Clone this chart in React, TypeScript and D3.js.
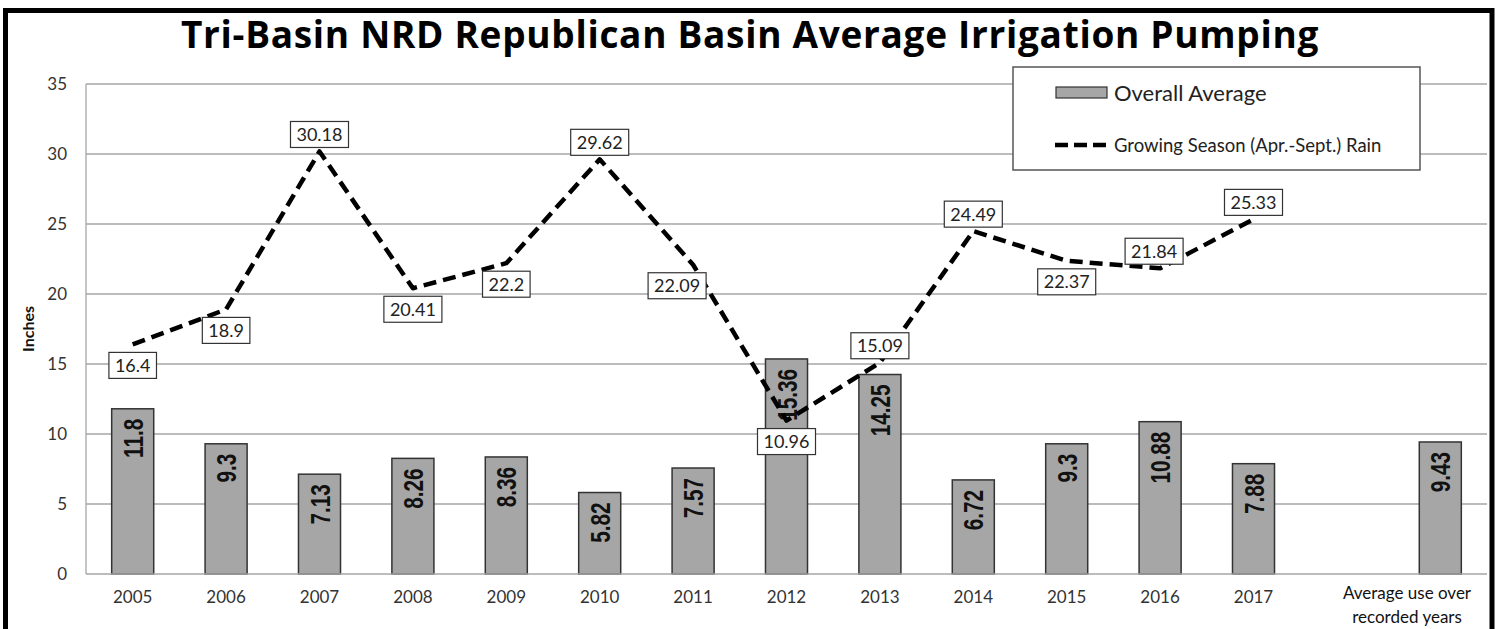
import React, { useEffect, useRef } from "react";
import * as d3 from "d3";

const categories = [
  "2005", "2006", "2007", "2008", "2009", "2010", "2011", "2012", "2013",
  "2014", "2015", "2016", "2017", "", "Average use over recorded years",
];
const barValues: (number | null)[] = [
  11.8, 9.3, 7.13, 8.26, 8.36, 5.82, 7.57, 15.36, 14.25, 6.72, 9.3, 10.88, 7.88, null, 9.43,
];
const rainYears = [
  "2005", "2006", "2007", "2008", "2009", "2010", "2011", "2012", "2013",
  "2014", "2015", "2016", "2017",
];
const rainValues = [16.4, 18.9, 30.18, 20.41, 22.2, 29.62, 22.09, 10.96, 15.09, 24.49, 22.37, 21.84, 25.33];
const rainLabelPlacement = [
  "below", "below", "above", "below", "below", "above", "belowLeft",
  "below", "above", "above", "below", "aboveLeft", "above",
];
const yTicks = [0, 5, 10, 15, 20, 25, 30, 35];

const W = 1501;
const H = 629;
const M = { left: 86, right: 1487, top: 84, bottom: 574 };
const SANS = "Lato, 'Open Sans', sans-serif";

export default function App() {
  const ref = useRef<SVGSVGElement | null>(null);

  useEffect(() => {
    const svg = d3.select(ref.current);
    svg.selectAll("*").remove();

    svg.append("rect").attr("width", W).attr("height", H).attr("fill", "#fff");

    const x = d3
      .scaleBand<string>()
      .domain(categories)
      .range([M.left, M.right])
      .paddingInner(0.55)
      .paddingOuter(0.275);
    const y = d3.scaleLinear().domain([0, 35]).range([M.bottom, M.top]);
    const cx = (c: string) => (x(c) as number) + x.bandwidth() / 2;

    // grid
    svg
      .append("g")
      .selectAll("line")
      .data(yTicks.filter((t) => t > 0))
      .join("line")
      .attr("x1", M.left)
      .attr("x2", M.right)
      .attr("y1", (d) => y(d))
      .attr("y2", (d) => y(d))
      .attr("stroke", "#a6a6a6")
      .attr("stroke-width", 1.3);
    svg
      .append("line")
      .attr("x1", M.left)
      .attr("x2", M.left)
      .attr("y1", M.top)
      .attr("y2", M.bottom)
      .attr("stroke", "#a6a6a6")
      .attr("stroke-width", 1.3);

    // y tick labels
    svg
      .append("g")
      .selectAll("text")
      .data(yTicks)
      .join("text")
      .attr("x", 67)
      .attr("y", (d) => y(d))
      .attr("dy", "0.35em")
      .attr("text-anchor", "end")
      .attr("font-family", SANS)
      .attr("font-size", 17)
      .attr("fill", "#333")
      .text((d) => String(d));

    // y axis title
    svg
      .append("text")
      .attr("transform", `translate(34,${(M.top + M.bottom) / 2}) rotate(-90)`)
      .attr("text-anchor", "middle")
      .attr("font-family", SANS)
      .attr("font-weight", 700)
      .attr("font-size", 16)
      .attr("fill", "#111")
      .text("Inches");

    // bars
    const barData = categories
      .map((c, i) => ({ c, v: barValues[i] }))
      .filter((d) => d.v !== null) as { c: string; v: number }[];
    svg
      .append("g")
      .selectAll("rect")
      .data(barData)
      .join("rect")
      .attr("x", (d) => x(d.c) as number)
      .attr("y", (d) => y(d.v))
      .attr("width", x.bandwidth())
      .attr("height", (d) => y(0) - y(d.v))
      .attr("fill", "#a6a6a6")
      .attr("stroke", "#333")
      .attr("stroke-width", 1.5);

    // bottom axis line
    svg
      .append("line")
      .attr("x1", M.left)
      .attr("x2", M.right)
      .attr("y1", M.bottom)
      .attr("y2", M.bottom)
      .attr("stroke", "#a6a6a6")
      .attr("stroke-width", 1.5);

    // bar labels (rotated, condensed bold)
    svg
      .append("g")
      .selectAll("text")
      .data(barData)
      .join("text")
      .attr("transform", (d) => `translate(${cx(d.c)},${y(d.v) + 10}) rotate(-90) scale(0.74,1)`)
      .attr("text-anchor", "end")
      .attr("dy", "0.36em")
      .attr("font-family", "'Liberation Sans', Arial, sans-serif")
      .attr("font-weight", 700)
      .attr("font-size", 28)
      .attr("fill", "#111")
      .text((d) => String(d.v));

    // x tick labels
    const xl = svg.append("g");
    categories.forEach((c) => {
      if (!c) return;
      if (c.startsWith("Average")) {
        const t = xl
          .append("text")
          .attr("text-anchor", "middle")
          .attr("font-family", SANS)
          .attr("font-size", 17)
          .attr("fill", "#111");
        const px = Math.min(cx(c), M.right - 80);
        t.append("tspan").attr("x", px).attr("y", 599).text("Average use over");
        t.append("tspan").attr("x", px).attr("y", 623).text("recorded years");
      } else {
        xl.append("text")
          .attr("x", cx(c))
          .attr("y", 603)
          .attr("text-anchor", "middle")
          .attr("font-family", SANS)
          .attr("font-size", 17)
          .attr("fill", "#333")
          .text(c);
      }
    });

    // rain line
    const line = d3
      .line<number>()
      .x((_, i) => cx(rainYears[i]))
      .y((d) => y(d));
    svg
      .append("path")
      .attr("d", line(rainValues) as string)
      .attr("fill", "none")
      .attr("stroke", "#000")
      .attr("stroke-width", 4.5)
      .attr("stroke-dasharray", "13,7")
      .attr("stroke-linejoin", "round");

    // rain labels
    const lg = svg.append("g");
    rainValues.forEach((v, i) => {
      const place = rainLabelPlacement[i];
      const px = cx(rainYears[i]) + (place === "belowLeft" ? -16 : place === "aboveLeft" ? -6 : 0);
      const py = y(v);
      const g = lg.append("g");
      const r = g.append("rect").attr("fill", "#fff").attr("stroke", "#333").attr("stroke-width", 1.2);
      const t = g
        .append("text")
        .attr("text-anchor", "middle")
        .attr("font-family", SANS)
        .attr("font-size", 18)
        .attr("fill", "#222")
        .text(String(v));
      const bh = 26;
      const tw = (t.node() as SVGTextElement).getComputedTextLength();
      const bw = tw + 12;
      const top = place.startsWith("below") ? py + 8 : py - 4 - bh;
      r.attr("x", px - bw / 2).attr("y", top).attr("width", bw).attr("height", bh);
      t.attr("x", px).attr("y", top + bh / 2).attr("dy", "0.36em");
    });

    // legend
    const leg = svg.append("g");
    leg
      .append("rect")
      .attr("x", 1013)
      .attr("y", 67)
      .attr("width", 407)
      .attr("height", 103)
      .attr("fill", "#fff")
      .attr("stroke", "#555")
      .attr("stroke-width", 1.5);
    leg
      .append("rect")
      .attr("x", 1056)
      .attr("y", 87)
      .attr("width", 51)
      .attr("height", 11)
      .attr("fill", "#a6a6a6")
      .attr("stroke", "#333")
      .attr("stroke-width", 1.2);
    leg
      .append("text")
      .attr("x", 1114)
      .attr("y", 93)
      .attr("dy", "0.36em")
      .attr("font-family", SANS)
      .attr("font-size", 22)
      .attr("fill", "#222")
      .text("Overall Average");
    leg
      .append("line")
      .attr("x1", 1055)
      .attr("x2", 1107)
      .attr("y1", 145)
      .attr("y2", 145)
      .attr("stroke", "#000")
      .attr("stroke-width", 4.5)
      .attr("stroke-dasharray", "13,6");
    leg
      .append("text")
      .attr("x", 1114)
      .attr("y", 145)
      .attr("dy", "0.36em")
      .attr("font-family", SANS)
      .attr("font-size", 18.5)
      .attr("fill", "#222")
      .text("Growing Season (Apr.-Sept.) Rain");

    // title
    svg
      .append("text")
      .attr("x", 750)
      .attr("y", 48)
      .attr("text-anchor", "middle")
      .attr("font-family", "'Open Sans', sans-serif")
      .attr("font-weight", 700)
      .attr("font-size", 37)
      .attr("letter-spacing", 0.7)
      .attr("fill", "#000")
      .text("Tri-Basin NRD Republican Basin Average Irrigation Pumping");

    // outer frame
    svg
      .append("path")
      .attr("d", `M5.5,${H + 5} V10.5 H1492 V${H + 5}`)
      .attr("fill", "none")
      .attr("stroke", "#000")
      .attr("stroke-width", 5);
  }, []);

  return (
    <div style={{ position: "absolute", left: 0, top: 0 }}>
      <svg ref={ref} width={W} height={H} style={{ display: "block" }} />
    </div>
  );
}
